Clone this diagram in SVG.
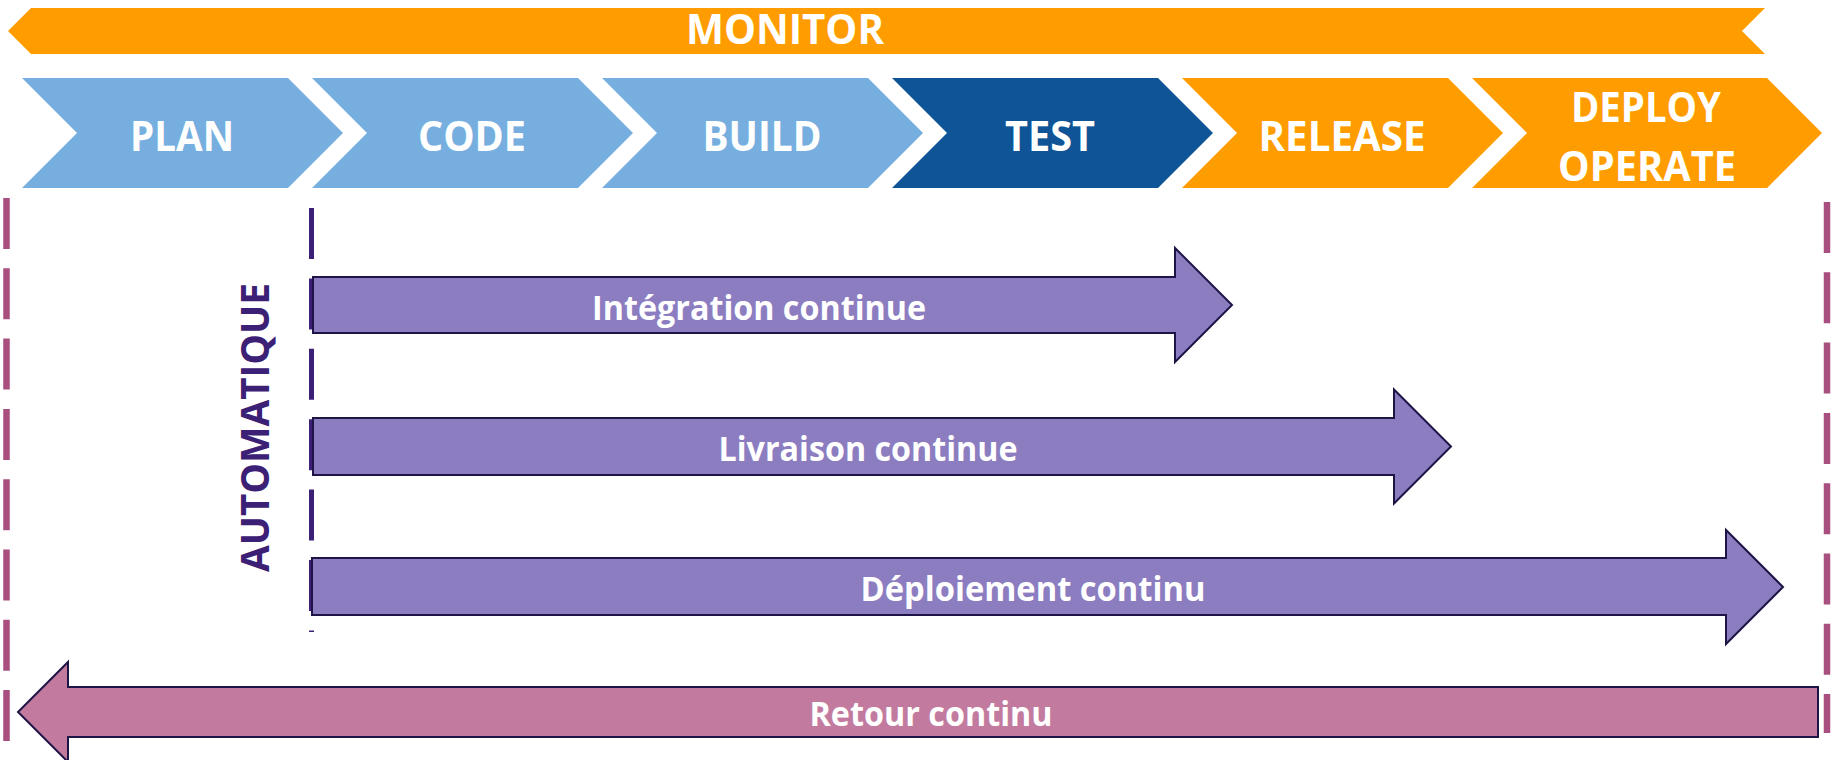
<svg xmlns="http://www.w3.org/2000/svg" width="1833" height="760" viewBox="0 0 1833 760">
<style>
.lbl{font-family:"Open Sans","Noto Sans",sans-serif;font-weight:700;fill:#FFFFFF;text-anchor:middle}
.big{font-size:42px}
.sm{font-size:34px}
.light{fill:#76AFDF}
.dark{fill:#0F5496}
.orange{fill:#FF9D00}
.arr{fill:#8C7DC1;stroke:#1F1446;stroke-width:2;stroke-linejoin:miter}
.ret{fill:#C27B9F;stroke:#1F1446;stroke-width:2;stroke-linejoin:miter}
.pinkdash{stroke:#A94F7F;stroke-width:6.5;stroke-dasharray:51 19.3;fill:none}
</style>
<rect width="1833" height="760" fill="#FFFFFF"/>
<g id="monitor">
<polygon class="orange" points="31,8 1765,8 1742,31 1765,54 31,54 8,31"/>
<text class="lbl big" x="785" y="44" textLength="198" lengthAdjust="spacingAndGlyphs">MONITOR</text>
</g>
<g id="plan">
<polygon class="light" points="22,78 288,78 343,133 288,188 22,188 77,133"/>
<text class="lbl big" x="182" y="151" textLength="104" lengthAdjust="spacingAndGlyphs">PLAN</text>
</g>
<g id="code">
<polygon class="light" points="312,78 578,78 633,133 578,188 312,188 367,133"/>
<text class="lbl big" x="472" y="151" textLength="108" lengthAdjust="spacingAndGlyphs">CODE</text>
</g>
<g id="build">
<polygon class="light" points="602,78 868,78 923,133 868,188 602,188 657,133"/>
<text class="lbl big" x="762" y="151" textLength="119" lengthAdjust="spacingAndGlyphs">BUILD</text>
</g>
<g id="test">
<polygon class="dark" points="892,78 1158,78 1213,133 1158,188 892,188 947,133"/>
<text class="lbl big" x="1050" y="151" textLength="90" lengthAdjust="spacingAndGlyphs">TEST</text>
</g>
<g id="release">
<polygon class="orange" points="1182,78 1448,78 1503,133 1448,188 1182,188 1237,133"/>
<text class="lbl big" x="1342" y="151" textLength="167" lengthAdjust="spacingAndGlyphs">RELEASE</text>
</g>
<g id="deploy">
<polygon class="orange" points="1472,78 1767,78 1822,133 1767,188 1472,188 1527,133"/>
<text class="lbl big" x="1646" y="122" textLength="150" lengthAdjust="spacingAndGlyphs">DEPLOY</text>
<text class="lbl big" x="1647" y="181" textLength="178" lengthAdjust="spacingAndGlyphs">OPERATE</text>
</g>
<g id="connectors">
<line class="pinkdash" x1="6.5" y1="198" x2="6.5" y2="742"/>
<line class="pinkdash" x1="1827" y1="202" x2="1827" y2="733"/>
<line x1="311.5" y1="208" x2="311.5" y2="632" stroke="#3B2075" stroke-width="5" stroke-dasharray="51 19.4"/>
</g>
<g id="automatique">
<text transform="translate(269,427.5) rotate(-90)" x="0" y="0" font-family="Open Sans, Noto Sans, sans-serif" font-weight="700" font-size="40" fill="#3B2075" text-anchor="middle" textLength="289" lengthAdjust="spacingAndGlyphs">AUTOMATIQUE</text>
</g>
<g id="integration">
<path class="arr" d="M313,277 H1175 V248 L1232,305 L1175,362 V333 H313 Z"/>
<text class="lbl sm" x="759" y="320" textLength="334" lengthAdjust="spacingAndGlyphs">Intégration continue</text>
</g>
<g id="livraison">
<path class="arr" d="M313,418 H1394 V389.5 L1451,446.5 L1394,503.5 V475 H313 Z"/>
<text class="lbl sm" x="868" y="461" textLength="299" lengthAdjust="spacingAndGlyphs">Livraison continue</text>
</g>
<g id="deploiement">
<path class="arr" d="M312,558 H1726 V530 L1783,587 L1726,644 V615 H312 Z"/>
<text class="lbl sm" x="1033" y="601" textLength="345" lengthAdjust="spacingAndGlyphs">Déploiement continu</text>
</g>
<g id="retour">
<path class="ret" d="M1818,687 V737 H68 V762 L18,712 L68,662 V687 Z"/>
<text class="lbl sm" x="931" y="726" textLength="243" lengthAdjust="spacingAndGlyphs">Retour continu</text>
</g>
</svg>
